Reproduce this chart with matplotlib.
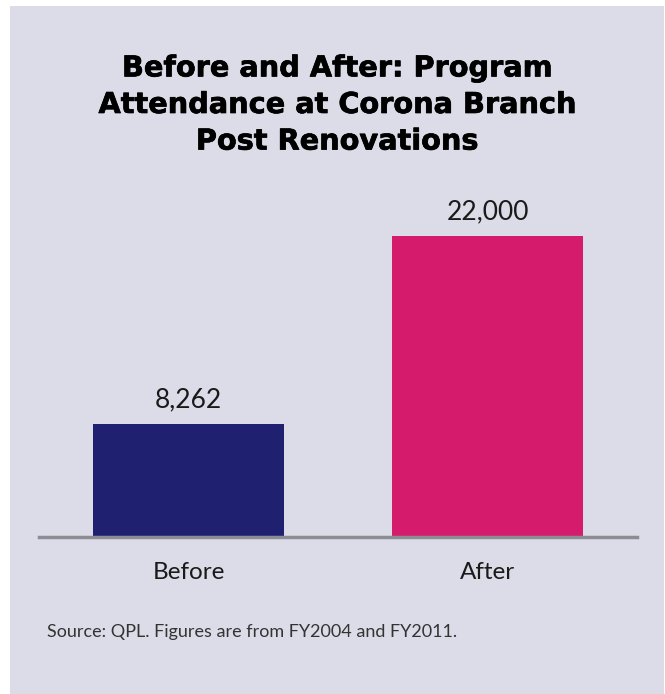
import matplotlib
matplotlib.use("Agg")
import matplotlib.pyplot as plt
from matplotlib.patches import Rectangle
import matplotlib.patheffects as pe

categories = ["Before", "After"]
values = [8262, 22000]
value_labels = ["8,262", "22,000"]
colors = ["#1f2070", "#d41b6c"]
title = "Before and After: Program\nAttendance at Corona Branch\nPost Renovations"
source = "Source: QPL. Figures are from FY2004 and FY2011."

W, H = 665, 694
fig = plt.figure(figsize=(W / 100, H / 100), dpi=100)
fig.patch.set_facecolor("white")
bg = "#dcdce8"
fig.patches.append(Rectangle((10 / W, 0), (W - 11) / W, (H - 6) / H,
                             transform=fig.transFigure, facecolor=bg,
                             edgecolor="none", zorder=-5))

ax = fig.add_axes([39 / W, (H - 537) / H, 598 / W, 301 / H])
ax.set_zorder(2)
ax.set_facecolor("none")
x = list(range(len(categories)))
ax.bar(x, values, width=0.64, color=colors, zorder=2)
ax.set_xlim(-0.5, 1.5)
ax.set_ylim(0, 22000)
for s in ["top", "right", "left"]:
    ax.spines[s].set_visible(False)
ax.spines["bottom"].set_color("#8c8c94")
ax.spines["bottom"].set_linewidth(2.5)
ax.spines["bottom"].set_zorder(3)
ax.set_yticks([])
ax.set_xticks(x)
ax.set_xticklabels(categories, fontsize=17.5, family="Lato", color="#1a1a1a")
for lbl in ax.get_xticklabels():
    lbl.set_va("baseline")
ax.tick_params(axis="x", length=0, pad=30)

for xi, v, lab in zip(x, values, value_labels):
    ax.annotate(lab, (xi, v), xytext=(0, 12.2), textcoords="offset points",
                ha="center", va="baseline", fontsize=19, family="Lato",
                color="#1a1a1a", clip_on=False)

fig.text(337 / W, 1 - 105 / H, title, ha="center", va="center",
         fontsize=20.7, fontweight="bold", family="DejaVu Sans", color="black",
         linespacing=1.39,
         path_effects=[pe.withStroke(linewidth=0.5, foreground="black")])
fig.text(47 / W, 1 - 637 / H, source, ha="left", va="baseline",
         fontsize=13, family="Lato", color="#333333")

fig.savefig("out.png", dpi=100, facecolor=fig.get_facecolor())
